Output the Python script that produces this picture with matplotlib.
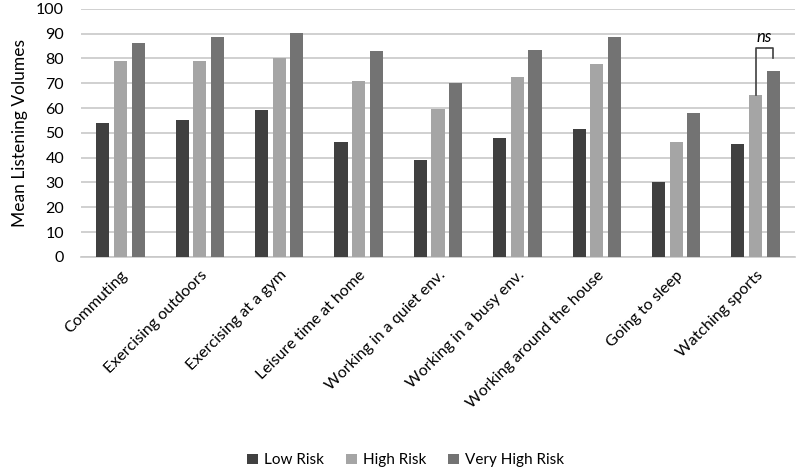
import numpy as np
import matplotlib.pyplot as plt

plt.rcParams['font.family'] = ['Lato', 'DejaVu Sans']

categories = ['Commuting', 'Exercising outdoors', 'Exercising at a gym',
              'Leisure time at home', 'Working in a quiet env.',
              'Working in a busy env.', 'Working around the house',
              'Going to sleep', 'Watching sports']
low_risk = [53.9, 55.1, 59.3, 46.5, 39.0, 48.0, 51.7, 30.0, 45.7]
high_risk = [79.0, 79.0, 80.0, 70.8, 59.7, 72.6, 77.6, 46.5, 65.2]
very_high_risk = [86.4, 88.7, 90.1, 83.2, 70.0, 83.5, 88.7, 58.1, 75.0]
series_names = ['Low Risk', 'High Risk', 'Very High Risk']
colors = ['#404040', '#a5a5a5', '#737373']

fig = plt.figure(figsize=(8, 4.67), dpi=100)
ax = fig.add_axes([0.101, 0.45, 0.893, 0.531])

x = np.arange(len(categories))
width = 0.165
offset = 0.222
for i, (vals, name, c) in enumerate(zip([low_risk, high_risk, very_high_risk], series_names, colors)):
    ax.bar(x + (i - 1) * offset, vals, width, color=c, label=name, zorder=3)

ax.set_ylim(0, 100)
ax.set_xlim(-0.5, len(categories) - 0.5)
ax.set_yticks(range(0, 101, 10))
ax.yaxis.grid(True, color='#c8c8c8', linewidth=1.2, zorder=0)
ax.set_axisbelow(True)
for s in ['top', 'right', 'left']:
    ax.spines[s].set_visible(False)
ax.spines['bottom'].set_color('#c8c8c8')
ax.spines['bottom'].set_linewidth(1.2)
ax.tick_params(axis='both', length=0, labelsize=11.5, colors='black')
ax.tick_params(axis='y', pad=12)
ax.set_xticks(x)
ax.set_xticklabels(categories, rotation=45, ha='right', rotation_mode='anchor')
ax.tick_params(axis='x', pad=8)
ax.set_ylabel('Mean Listening Volumes', fontsize=12.5, labelpad=6)

# ns bracket between High and Very High risk for Watching sports
k = len(categories) - 1
xh = k
xv = k + offset
ax.plot([xh, xh, xv, xv], [high_risk[k], 84.3, 84.3, 80.2], color='#404040', lw=1.2, zorder=4)
ax.text((xh + xv) / 2, 85.3, 'ns', style='italic', ha='center', va='bottom', fontsize=12)

fig.legend(*ax.get_legend_handles_labels(), loc='center', bbox_to_anchor=(0.507, 0.014),
           ncol=3, frameon=False, fontsize=11, handlelength=0.7, handleheight=0.7,
           columnspacing=1.45, handletextpad=0.4, borderaxespad=0, borderpad=0)

fig.savefig('out.png', dpi=100)
